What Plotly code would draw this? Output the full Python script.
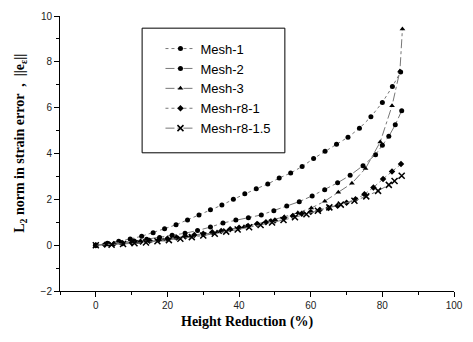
import plotly.graph_objects as go

# ---- data ----
mesh1_x = [0, 3.2, 6.4, 9.6, 12.8, 16, 19.2, 22.4, 25.6, 28.8, 32, 35.2, 38.4, 41.6,
           44.8, 48, 51.2, 54.4, 57.6, 60.8, 64, 67.2, 70.4, 73.6, 76.8, 80, 82.8, 85.1]
mesh1_y = [0, 0.08, 0.17, 0.27, 0.39, 0.54, 0.72, 0.89, 1.10, 1.32, 1.55, 1.75, 2.0, 2.24,
           2.46, 2.67, 2.93, 3.15, 3.43, 3.78, 4.1, 4.4, 4.71, 5.1, 5.6, 6.23, 6.92, 7.56]

mesh2_x = [0, 3.6, 7.1, 10.7, 14.2, 17.8, 21.3, 24.9, 28.4, 32.0, 35.5, 39.1, 42.6, 46.2,
           49.7, 53.3, 56.8, 60.4, 63.9, 67.5, 71.0, 74.6, 78.1, 80.0, 81.8, 83.6, 85.4]
mesh2_y = [0, 0.05, 0.11, 0.18, 0.26, 0.34, 0.43, 0.52, 0.64, 0.79, 0.97, 1.1, 1.2, 1.32,
           1.5, 1.71, 1.9, 2.15, 2.42, 2.72, 3.05, 3.47, 3.95, 4.36, 4.75, 5.25, 5.87]

mesh3_x = [0, 3.76, 7.52, 11.28, 15.04, 18.8, 22.56, 26.32, 30.08, 33.84, 37.6, 41.36,
           45.12, 48.88, 52.64, 56.4, 60.16, 63.92, 67.7, 71.5, 75.3, 79.4, 82.7, 84.9, 85.6]
mesh3_y = [0, 0.03, 0.07, 0.12, 0.17, 0.23, 0.30, 0.38, 0.47, 0.57, 0.68, 0.80,
           0.93, 1.08, 1.24, 1.42, 1.62, 1.92, 2.31, 2.70, 3.35, 4.5, 6.08, 7.6, 9.43]

r81_x = [0, 2.5, 5, 7.5, 10, 12.5, 15, 17.5, 20, 22.5, 25, 27.5, 30, 32.5, 35, 37.5, 40,
         42.5, 45, 47.5, 50, 52.5, 55, 57.5, 60, 62.5, 65, 67.5, 70, 72.5, 75, 77.5, 80.2,
         82.7, 85.2]
r81_y = [0, 0.02, 0.05, 0.08, 0.11, 0.15, 0.19, 0.23, 0.28, 0.33, 0.38, 0.44, 0.50, 0.56,
         0.62, 0.69, 0.76, 0.84, 0.92, 1.0, 1.08, 1.17, 1.27, 1.37, 1.45, 1.53, 1.62, 1.72,
         1.85, 2.0, 2.22, 2.52, 2.89, 3.21, 3.54]

r815_x = [0, 4.4, 7.6, 10.8, 14, 17.2, 20.4, 23.6, 26.8, 30, 33.2, 36.4, 39.6, 42.8, 46,
          49.2, 52.4, 55.6, 58.8, 62, 65.2, 68.4, 72.2, 75.5, 78.8, 81.8, 83.4, 85.4]
r815_y = [0, 0.02, 0.05, 0.08, 0.12, 0.17, 0.22, 0.28, 0.35, 0.42, 0.5, 0.59, 0.68, 0.78,
          0.88, 0.99, 1.1, 1.22, 1.35, 1.5, 1.65, 1.77, 1.94, 2.13, 2.37, 2.63, 2.8, 3.03]

series = [
    ("Mesh-1", mesh1_x, mesh1_y, "circle", "dot", 5),
    ("Mesh-2", mesh2_x, mesh2_y, "circle", "dashdot", 5),
    ("Mesh-3", mesh3_x, mesh3_y, "triangle-up", "dashdot", 5),
    ("Mesh-r8-1", r81_x, r81_y, "diamond", "dot", 5),
    ("Mesh-r8-1.5", r815_x, r815_y, "x-thin-open", "dashdot", 6),
]

x_ticks = [0, 20, 40, 60, 80, 100]
y_ticks = [-2, 0, 2, 4, 6, 8, 10]

fig = go.Figure()
for name, xs, ys, sym, dash, size in series:
    fig.add_trace(go.Scatter(
        x=xs, y=ys, name=name, mode="lines+markers",
        line=dict(color="#777777", width=1, dash=dash),
        marker=dict(symbol=sym, size=size, color="black",
                    line=dict(color="black", width=1.5 if "x" in sym else 0)),
    ))

PW, PH = 403, 278          # plot area size in px
axis_font = dict(family="Liberation Sans, Arial, sans-serif", size=10, color="#222")
fig.update_layout(
    width=473, height=342,
    margin=dict(l=60, r=10, t=13, b=51),
    paper_bgcolor="white", plot_bgcolor="white",
    showlegend=True,
    legend=dict(x=0.255, y=0.936, xanchor="left", yanchor="top",
                bgcolor="rgba(0,0,0,0)", borderwidth=0,
                font=dict(family="Liberation Sans, Arial, sans-serif", size=13, color="black"),
                tracegroupgap=0, itemwidth=30),
    xaxis=dict(range=[-10, 100], tickvals=x_ticks, showgrid=False, zeroline=False,
               showline=True, linecolor="black", linewidth=1, ticklabeloverflow="allow",
               ticks="outside", ticklen=5, tickcolor="black", tickfont=axis_font,
               minor=dict(dtick=10, ticks="outside", ticklen=3, tickcolor="black")),
    yaxis=dict(range=[-2, 10], tickvals=y_ticks, showgrid=False, zeroline=False,
               showline=True, linecolor="black", linewidth=1, ticklabeloverflow="allow",
               ticks="outside", ticklen=5, tickcolor="black", tickfont=axis_font,
               minor=dict(dtick=1, ticks="outside", ticklen=3, tickcolor="black")),
    shapes=[dict(type="rect", xref="paper", yref="paper",
                 x0=(144 - 60) / PW, x1=(290 - 60) / PW,
                 y0=(290.7 - 151) / PH, y1=(290.7 - 25) / PH,
                 line=dict(color="black", width=1), fillcolor="rgba(0,0,0,0)")],
    annotations=[
        dict(text="<b>Height Reduction (%)</b>", xref="paper", yref="paper",
             x=(252 - 60) / PW, y=(290.7 - 322) / PH, showarrow=False,
             xanchor="center", yanchor="middle",
             font=dict(family="Liberation Serif, Times New Roman, serif", size=14, color="black")),
        dict(text="<b>L<sub>2</sub> norm in strain error  ,  ||e<sub>ε</sub>||</b>",
             xref="paper", yref="paper", textangle=-90,
             x=(20 - 60) / PW, y=(290.7 - 141) / PH, showarrow=False,
             xanchor="center", yanchor="middle",
             font=dict(family="Liberation Serif, Times New Roman, serif", size=14, color="black")),
    ],
)

# remove the browser's default 8px page margin so the 473x342 figure fills the window
fig.write_html("out.html",
               config={"displayModeBar": False},
               post_script="document.body.style.margin='0';document.body.style.overflow='hidden';")
